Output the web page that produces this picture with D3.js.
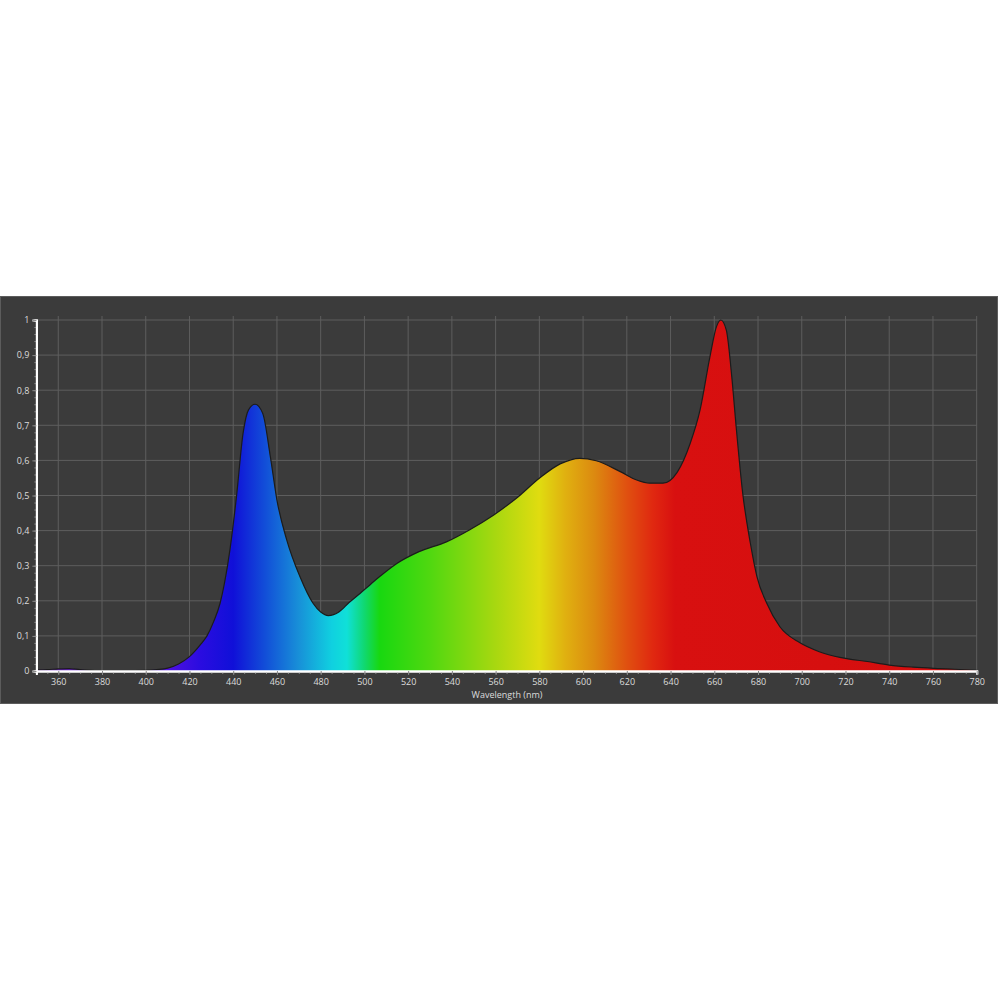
<!DOCTYPE html>
<html>
<head>
<meta charset="utf-8">
<script src="https://cdn.jsdelivr.net/npm/d3@7/dist/d3.min.js"></script>
<style>
  html, body { margin: 0; padding: 0; background: #fff; }
  text { font-family: "Open Sans", "Noto Sans", sans-serif; }
</style>
</head>
<body>
<div id="chart"></div>
<script>
// spectrum (nm -> relative intensity)
const wavelengths = [350, 355, 360, 365, 370, 375, 380, 390, 400, 405, 410, 415, 420, 425, 428, 431, 434, 436, 438.5, 441.5,
  444.5, 447, 450, 453.5, 457, 460, 464.5, 470.5, 476.5, 480, 483.5, 488.5, 493, 498, 503, 507, 515, 525, 537.5, 548,
  559, 569.5, 580, 589.5, 598.5, 606, 617, 624.5, 630.5, 636.5, 643, 649, 653.5, 658, 661, 663, 665.5, 668, 670, 673,
  676.5, 679.5, 684, 690, 699, 708, 718, 730, 740, 751, 763, 770, 780];
const intensity = [0.003, 0.004, 0.006, 0.007, 0.004, 0.002, 0.001, 0.001, 0.002, 0.004, 0.008, 0.020, 0.041, 0.075, 0.100, 0.140, 0.193, 0.250, 0.345, 0.497,
  0.677, 0.744, 0.760, 0.734, 0.610, 0.487, 0.373, 0.269, 0.193, 0.168, 0.158, 0.169, 0.195, 0.221, 0.248, 0.269, 0.307, 0.340, 0.368, 0.402,
  0.444, 0.492, 0.549, 0.590, 0.606, 0.599, 0.568, 0.544, 0.535, 0.535, 0.566, 0.649, 0.744, 0.895, 0.981, 1.000, 0.971, 0.838, 0.696, 0.506,
  0.364, 0.269, 0.193, 0.126, 0.081, 0.055, 0.038, 0.027, 0.017, 0.011, 0.007, 0.005, 0.002];

// fill colour along the wavelength axis
const colorStopsNm = [350, 410, 425, 440, 455, 470, 485, 492, 500, 507, 530, 560, 580, 592, 605, 620, 632, 642, 780];
const colorStops = ["#7020c8", "#5010e0", "#2a0ce0", "#1010d8", "#1250d8", "#1890d8", "#10d0e0", "#10e0d8", "#10d870", "#18d810",
  "#50d810", "#a8d810", "#e0dc10", "#e0b010", "#dc8a10", "#e05010", "#e02810", "#d81010", "#d40e0e"];

const xTicks = d3.range(360, 781, 20);
const xMinorTicks = d3.range(350, 781, 5);
const yTicks = d3.range(0, 1.01, 0.1);
const yMinorTicks = d3.range(0, 1.001, 0.02);

const data = wavelengths.map((w, i) => ({ w: w, v: intensity[i] }));

const svg = d3.select("#chart").append("svg")
  .attr("width", 1000)
  .attr("height", 1000);

svg.append("rect").attr("width", 1000).attr("height", 1000).attr("fill", "#fff");

// dark panel
svg.append("rect")
  .attr("x", 0.5).attr("y", 296.5)
  .attr("width", 997).attr("height", 407)
  .attr("fill", "#3b3b3b")
  .attr("stroke", "#5c5c5c");

const x = d3.scaleLinear().domain([350, 780]).range([36.4, 976.7]);
const y = d3.scaleLinear().domain([0, 1]).range([671, 320]);

// grid
svg.append("g").selectAll("line").data(xTicks).enter().append("line")
  .attr("x1", d => x(d)).attr("x2", d => x(d))
  .attr("y1", 316).attr("y2", y(0))
  .attr("stroke", "#5e5e5e").attr("stroke-width", 1);
svg.append("g").selectAll("line").data(yTicks.slice(1)).enter().append("line")
  .attr("x1", x(350)).attr("x2", x(780))
  .attr("y1", d => y(d)).attr("y2", d => y(d))
  .attr("stroke", "#5e5e5e").attr("stroke-width", 1);

// spectrum gradient
const grad = svg.append("defs").append("linearGradient")
  .attr("id", "spectrum")
  .attr("gradientUnits", "userSpaceOnUse")
  .attr("x1", x(350)).attr("x2", x(780))
  .attr("y1", 0).attr("y2", 0);
grad.selectAll("stop").data(colorStopsNm).enter().append("stop")
  .attr("offset", d => (d - 350) / (780 - 350))
  .attr("stop-color", (d, i) => colorStops[i]);

const area = d3.area()
  .curve(d3.curveMonotoneX)
  .x(d => x(d.w))
  .y0(y(0))
  .y1(d => y(d.v));
const line = d3.line()
  .curve(d3.curveMonotoneX)
  .x(d => x(d.w))
  .y(d => y(d.v));

svg.append("path").datum(data)
  .attr("d", area)
  .attr("fill", "url(#spectrum)");
svg.append("path").datum(data)
  .attr("d", line)
  .attr("fill", "none")
  .attr("stroke", "#1c1c1c")
  .attr("stroke-width", 1.2);

// axes
const commaLocale = d3.formatLocale({ decimal: ",", thousands: ".", grouping: [3], currency: ["", ""] });

const xMinor = svg.append("g")
  .attr("transform", `translate(0,${y(0)})`)
  .call(d3.axisBottom(x).tickValues(xMinorTicks).tickSize(3).tickFormat(""));
const xAxis = svg.append("g")
  .attr("transform", `translate(0,${y(0)})`)
  .call(d3.axisBottom(x).tickValues(xTicks).tickSize(4).tickPadding(4).tickFormat(d3.format("d")));

const yMinor = svg.append("g")
  .attr("transform", `translate(${x(350)},0)`)
  .call(d3.axisLeft(y).tickValues(yMinorTicks).tickSize(2).tickFormat(""));
const yAxis = svg.append("g")
  .attr("transform", `translate(${x(350)},0)`)
  .call(d3.axisLeft(y).tickValues(yTicks).tickSize(4).tickPadding(3).tickFormat(commaLocale.format(".1~f")));

[xMinor, xAxis, yMinor, yAxis].forEach(g => {
  g.select(".domain").attr("stroke", "#ffffff").attr("stroke-width", 2);
  g.selectAll(".tick line").attr("stroke", "#8a8a8a");
  g.selectAll(".tick text").attr("fill", "#dcdcdc").style("font-size", "9px");
});

svg.append("text")
  .attr("x", 507).attr("y", 698)
  .attr("text-anchor", "middle")
  .attr("fill", "#dcdcdc")
  .style("font-size", "9px")
  .text("Wavelength (nm)");
</script>
</body>
</html>
